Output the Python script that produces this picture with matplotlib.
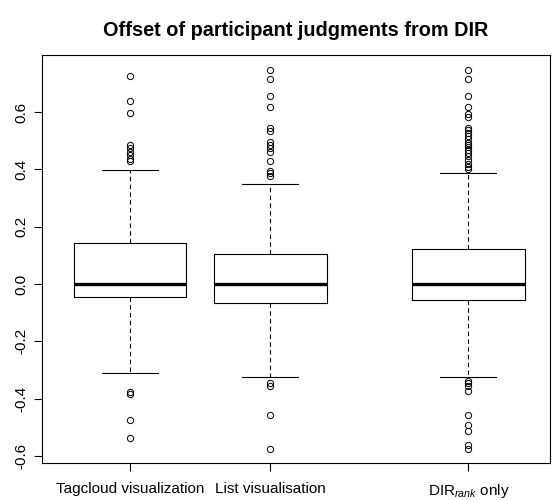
import numpy as np
import matplotlib.pyplot as plt

plt.rcParams['font.family'] = ['Liberation Sans', 'DejaVu Sans']
plt.rcParams['mathtext.fontset'] = 'custom'
plt.rcParams['mathtext.rm'] = 'Liberation Sans'
plt.rcParams['mathtext.it'] = 'Liberation Sans:italic'

# values
labels = ["Tagcloud visualization", "List visualisation", "DIR$_{rank}$ only"]
positions = [1, 2, 3.41]
medians = [0.0, 0.0, 0.0]
q1 = [-0.046, -0.065, -0.056]
q3 = [0.144, 0.104, 0.123]
whislo = [-0.311, -0.324, -0.324]
whishi = [0.398, 0.349, 0.389]

fliers_tag = [0.727, 0.639, 0.598, 0.485, 0.473, 0.461, 0.450, 0.438, 0.429,
              -0.376, -0.384, -0.473, -0.537]
fliers_list = [0.746, 0.714, 0.656, 0.618, 0.546, 0.535, 0.496, 0.485, 0.475,
               0.461, 0.430, 0.394, 0.386, 0.378,
               -0.346, -0.354, -0.455, -0.574]
fliers_dir = [0.746, 0.714, 0.656, 0.618, 0.593, 0.584, 0.546, 0.537, 0.528,
              0.516, 0.505, 0.493, 0.485, 0.477, 0.467, 0.458, 0.446, 0.432,
              0.419, 0.407, 0.400,
              -0.338, -0.346, -0.354, -0.372, -0.455, -0.493, -0.514, -0.560, -0.574]
fliers = [fliers_tag, fliers_list, fliers_dir]

yticks = [-0.6, -0.4, -0.2, 0.0, 0.2, 0.4, 0.6]

stats = []
for i in range(3):
    stats.append(dict(med=medians[i], q1=q1[i], q3=q3[i],
                      whislo=whislo[i], whishi=whishi[i], fliers=fliers[i]))

fig = plt.figure(figsize=(5.55, 5.0), dpi=100)
ax = fig.add_axes([0.0757, 0.074, 0.915, 0.816])

ax.bxp(stats, positions=positions, widths=0.8, showfliers=True,
       boxprops=dict(color='black', linewidth=0.8),
       medianprops=dict(color='black', linewidth=2.4, solid_capstyle='butt'),
       whiskerprops=dict(color='black', linewidth=0.8, linestyle=(0, (4, 3))),
       capprops=dict(color='black', linewidth=0.8),
       capwidths=0.4,
       flierprops=dict(marker='o', markersize=4.5, markerfacecolor='none',
                       markeredgecolor='black', markeredgewidth=0.7))

ax.set_xlim(0.374, 3.99)
ax.set_ylim(-0.624, 0.799)
ax.set_xticks(positions)
ax.set_xticklabels(labels, fontsize=11)
ax.set_yticks(yticks)
ax.set_yticklabels(["%.1f" % v for v in yticks], rotation=90, va='center',
                   fontsize=11)
ax.tick_params(axis='both', length=6, width=0.8)
ax.tick_params(axis='x', pad=8)
ax.tick_params(axis='y', pad=4)
for s in ax.spines.values():
    s.set_linewidth(0.8)

# title centred over the plotting region, as R does
fig.text(0.0757 + 0.915 / 2, 0.94, "Offset of participant judgments from DIR",
         fontsize=14.3, fontweight='bold', ha='center', va='center')

fig.savefig("out.png", dpi=100)
